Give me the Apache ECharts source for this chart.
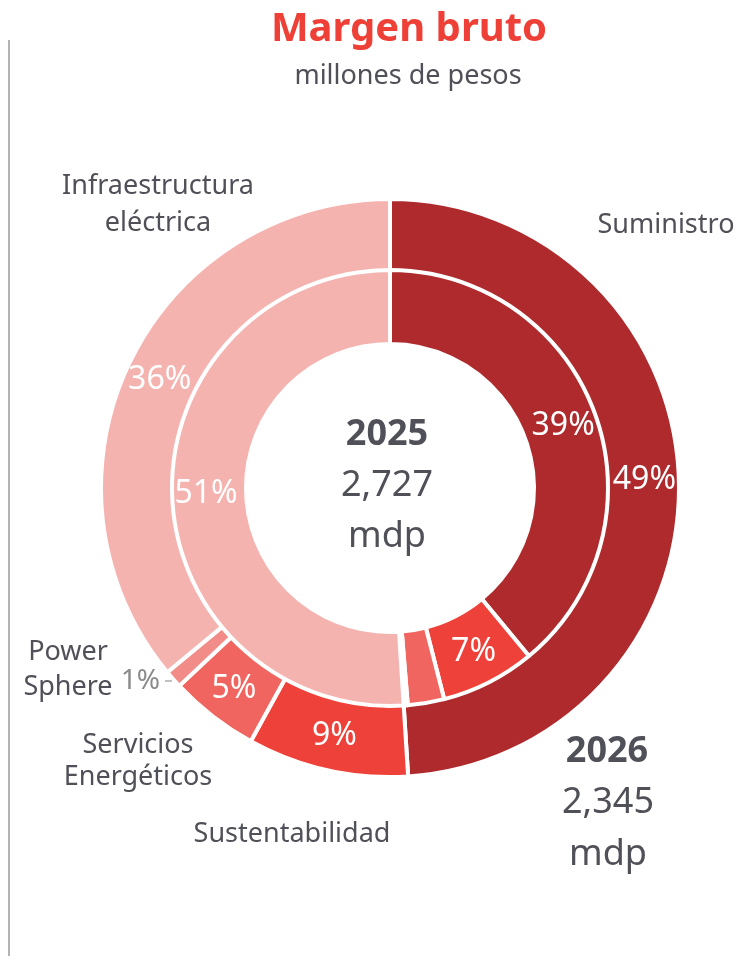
<!DOCTYPE html>
<html>
<head>
<meta charset="utf-8">
<title>Margen bruto</title>
<script src="https://cdn.jsdelivr.net/npm/echarts@6/dist/echarts.min.js"></script>
<style>
html, body { margin: 0; padding: 0; background: #fff; }
#chart { width: 756px; height: 963px; }
</style>
</head>
<body>
<div id="chart"></div>
<script>
// segmentos (sentido horario desde arriba)
var categories = ['Suministro', 'Sustentabilidad', 'Servicios Energéticos', 'Power Sphere', 'Infraestructura eléctrica'];
// anillo exterior: 2026, anillo interior: 2025 (% del margen bruto)
var share2026 = [49, 9, 5, 1, 36];
var share2025 = [39, 7, 2.7, 0.3, 51];
var totals = { '2025': '2,727', '2026': '2,345' };

var colors = ['#ae2a2d', '#ee4139', '#f0655f', '#f28c88', '#f5b3b0'];
var textGray = '#505058';
var font = '"Noto Sans", sans-serif';

var chart = echarts.init(document.getElementById('chart'), null, { renderer: 'canvas' });

function buildData(values, hideBelow, outsideIdx) {
    return values.map(function (v, i) {
        var item = { name: categories[i], value: v, itemStyle: { color: colors[i] } };
        if (i === outsideIdx) {
            // etiqueta pequeña afuera con línea guía gris
            item.label = { show: true, position: 'outside', color: '#8a8a8a', distance: 2, fontSize: 28 };
            item.labelLine = { show: true, length: 3, length2: 6, lineStyle: { color: '#aaaaaa', width: 1.5 } };
        } else if (v < hideBelow) {
            item.label = { show: false };
        }
        return item;
    });
}

function txt(text, x, y, size, opts) {
    opts = opts || {};
    return {
        type: 'text',
        silent: true,
        style: {
            text: text,
            x: x,
            y: y,
            fill: opts.color || textGray,
            fontSize: size,
            fontFamily: font,
            fontWeight: opts.bold ? 'bold' : 'normal',
            lineHeight: opts.lineHeight || size * 1.3,
            textAlign: 'center',
            textVerticalAlign: 'middle'
        }
    };
}

var pctLabel = {
    show: true,
    position: 'inside',
    formatter: '{c}%',
    color: '#ffffff',
    fontSize: 32,
    fontFamily: font
};

var option = {
    animation: false,
    series: [
        {
            name: '2026',
            type: 'pie',
            center: [390, 488],
            radius: [214, 289],
            startAngle: 90,
            clockwise: true,
            avoidLabelOverlap: false,
            itemStyle: { borderColor: '#ffffff', borderWidth: 4 },
            label: pctLabel,
            labelLine: { show: false },
            emphasis: { disabled: true },
            data: buildData(share2026, 1.5, 3)
        },
        {
            name: '2025',
            type: 'pie',
            center: [390, 488],
            radius: [144, 218],
            startAngle: 90,
            clockwise: true,
            avoidLabelOverlap: false,
            itemStyle: { borderColor: '#ffffff', borderWidth: 4 },
            label: pctLabel,
            labelLine: { show: false },
            emphasis: { disabled: true },
            data: buildData(share2025, 5, -1)
        }
    ],
    graphic: [
        {
            type: 'line',
            silent: true,
            shape: { x1: 9, y1: 40, x2: 9, y2: 956 },
            style: { stroke: '#9a9a9a', lineWidth: 1.5 }
        },
        txt('Margen bruto', 409, 30, 40, { bold: true, color: '#ee4037' }),
        txt('millones de pesos', 408, 76, 27),
        // totales al centro y abajo a la derecha
        txt('2025', 387, 435, 36, { bold: true }),
        txt(totals['2025'] + '\nmdp', 387, 511, 36, { lineHeight: 51 }),
        txt('2026', 607, 752, 36, { bold: true }),
        txt(totals['2026'] + '\nmdp', 608, 829, 36, { lineHeight: 52 }),
        // nombres de los segmentos
        txt('Infraestructura\neléctrica', 158, 205, 27, { lineHeight: 37 }),
        txt('Suministro', 666, 225, 27),
        txt('Power\nSphere', 68, 670, 27, { lineHeight: 35 }),
        txt('Servicios\nEnergéticos', 138, 761, 27, { lineHeight: 32 }),
        txt('Sustentabilidad', 292, 834, 27)
    ]
};

chart.setOption(option);
</script>
</body>
</html>
